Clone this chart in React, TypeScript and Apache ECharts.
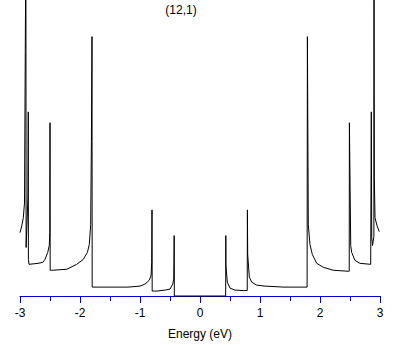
import React, { useEffect, useRef } from "react";
import * as echarts from "echarts";

// Density of states, (12,1) nanotube
const negEnergy = [-3.0, -2.97, -2.945, -2.925, -2.912, -2.902, -2.898, -2.868, -2.862, -2.86, -2.85, -2.7, -2.62, -2.583, -2.538, -2.512, -2.503, -2.5, -2.497, -2.47, -2.22, -2.055, -1.945, -1.877, -1.845, -1.822, -1.81, -1.8, -1.797, -1.7, -1.2, -1.0, -0.917, -0.845, -0.815, -0.805, -0.8, -0.797, -0.72, -0.58, -0.5, -0.455, -0.438, -0.434, -0.43, -0.428];
const negDos = [0.64, 0.71, 0.79, 0.94, 2.47, 3.6, 0.49, 0.99, 1.86, 0.37, 0.32, 0.33, 0.34, 0.37, 0.44, 0.51, 0.64, 1.75, 0.26, 0.26, 0.27, 0.32, 0.37, 0.44, 0.52, 0.72, 1.56, 2.62, 0.09, 0.09, 0.09, 0.1, 0.12, 0.16, 0.21, 0.34, 0.87, 0.05, 0.05, 0.06, 0.07, 0.12, 0.17, 0.34, 0.61, 0];
const posEnergy = [0.428, 0.43, 0.432, 0.455, 0.5, 0.583, 0.72, 0.787, 0.79, 0.795, 0.822, 0.862, 0.945, 1.083, 1.4, 1.785, 1.79, 1.805, 1.833, 1.872, 1.945, 2.055, 2.222, 2.472, 2.487, 2.49, 2.512, 2.528, 2.583, 2.667, 2.845, 2.852, 2.855, 2.862, 2.875, 2.898, 2.9, 2.905, 2.917, 2.95, 2.988];
const posDos = [0, 0.61, 0.31, 0.14, 0.08, 0.06, 0.055, 0.055, 0.87, 0.42, 0.19, 0.14, 0.11, 0.1, 0.09, 0.09, 2.62, 0.72, 0.52, 0.42, 0.33, 0.29, 0.26, 0.25, 0.25, 1.75, 0.51, 0.44, 0.36, 0.33, 0.32, 0.32, 1.86, 0.59, 0.51, 0.6, 3.6, 1.2, 0.79, 0.71, 0.65];

const titleText = "(12,1)";
const xName = "Energy (eV)";
const xMin = -3;
const xMax = 3;

export default function App() {
  const ref = useRef<HTMLDivElement>(null);
  useEffect(() => {
    if (!ref.current) return;
    const chart = echarts.init(ref.current, null, { renderer: "svg" });
    const energy = [...negEnergy, ...posEnergy];
    const dos = [...negDos, ...posDos];
    const data = energy.map((e, i) => [e, dos[i]]);
    const font = "'Liberation Sans', Arial, sans-serif";
    chart.setOption({
      animation: false,
      backgroundColor: "#ffffff",
      grid: { left: 20, right: 29, top: 0, bottom: 45 },
      graphic: [
        {
          type: "text",
          x: 181,
          y: 10,
          style: {
            text: titleText,
            fill: "#000",
            font: `12px ${font}`,
            textAlign: "center",
            textVerticalAlign: "middle",
          },
        },
      ],
      xAxis: {
        type: "value",
        min: xMin,
        max: xMax,
        interval: 1,
        name: xName,
        nameLocation: "middle",
        nameGap: 31,
        nameTextStyle: { color: "#000", fontSize: 12, fontFamily: font },
        axisLine: { show: true, lineStyle: { color: "#0000cc", width: 1 } },
        axisTick: { show: true, length: 7, lineStyle: { color: "#0000cc", width: 1 } },
        minorTick: { show: true, splitNumber: 2, length: 5, lineStyle: { color: "#0000cc", width: 1 } },
        axisLabel: {
          color: "#000",
          fontSize: 12,
          fontFamily: font,
          margin: 10,
          formatter: (v: number) => (v < 0 ? "-" + Math.abs(v) : String(v)),
        },
        splitLine: { show: false },
      },
      yAxis: {
        type: "value",
        min: -0.01,
        max: 2.99,
        show: false,
        splitLine: { show: false },
      },
      series: [
        {
          type: "line",
          data,
          symbol: "none",
          clip: true,
          lineStyle: { color: "#000", width: 1 },
        },
      ],
    });
    return () => chart.dispose();
  }, []);
  return (
    <div
      ref={ref}
      style={{ position: "fixed", left: 0, top: 0, width: 409, height: 345, background: "#fff" }}
    />
  );
}
